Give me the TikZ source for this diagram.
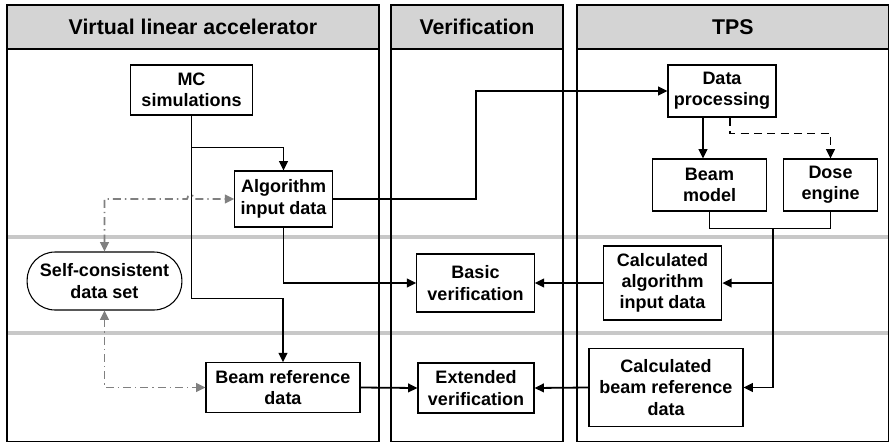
\documentclass[tikz,border=0pt]{standalone}
\usepackage{fontspec}
\setmainfont{Liberation Sans}
\usetikzlibrary{arrows.meta, calc}

\definecolor{headgray}{RGB}{212,212,212}
\definecolor{sepgray}{RGB}{200,200,200}
\definecolor{linkgray}{RGB}{128,128,128}

\begin{document}
\begin{tikzpicture}[x=0.75pt,y=-0.75pt,
  lane/.style={draw=black,line width=1.1pt},
  title/.style={font=\fontsize{16}{19}\selectfont\bfseries},
  box/.style={draw,line width=0.8pt,fill=white,align=center,inner sep=1pt,
    font=\fontsize{13.5}{16}\selectfont\bfseries},
  link/.style={draw,line width=1.35pt,-{Triangle[length=7pt,width=6.5pt]}},
  dashlink/.style={link,dash pattern=on 6pt off 4pt},
  graylink/.style={draw=linkgray,line width=1.3pt,
    dash pattern=on 6pt off 3pt on 1pt off 3pt,
    {Triangle[length=7pt,width=6.5pt]}-{Triangle[length=7pt,width=6.5pt]}}]
  \useasboundingbox (0,0) rectangle (889,443);
  % separators
  \draw[sepgray,line width=2.4pt] (7,237) -- (889,237) (7,333) -- (889,333);
  % lanes
  \foreach \xa/\xb/\name in {7/379/Virtual linear accelerator,391/563/Verification,577/888.5/TPS} {
    \draw[lane] (\xa,5) rectangle (\xb,441.5);
    \draw[lane,fill=headgray] (\xa,5) rectangle (\xb,49);
    \node[title] (hdr\xa) at ({(\xa+\xb)/2},27) {\name};
  }
  % nodes
  \node[box,minimum width=92pt,minimum height=37.5pt] (mc) at (191.5,90) {MC\\simulations};
  \node[box,minimum width=73pt,minimum height=42pt] (alg) at (283.5,199) {Algorithm\\input data};
  \node[box,minimum width=81pt,minimum height=39pt] (proc) at (722,91) {Data\\processing};
  \node[box,minimum width=86pt,minimum height=39pt] (beam) at (709.5,185) {Beam\\model};
  \node[box,minimum width=70pt,minimum height=39pt] (dose) at (830.5,185) {Dose\\engine};
  \node[box,rounded corners=21pt,minimum width=116pt,minimum height=43.5pt] (self) at (104.5,281) {Self-consistent\\data set};
  \node[box,minimum width=88pt,minimum height=43.5pt] (basic) at (475.5,283) {Basic\\verification};
  \node[box,minimum width=89pt,minimum height=55.5pt] (calcalg) at (662.5,283) {Calculated\\algorithm\\input data};
  \node[box,minimum width=115.5pt,minimum height=37pt] (bref) at (283,387.5) {Beam reference\\data};
  \node[box,minimum width=87pt,minimum height=37.5pt] (ext) at (476,388) {Extended\\verification};
  \node[box,minimum width=115.5pt,minimum height=58pt] (calcbref) at (666,387.5) {Calculated\\beam reference\\data};
  \coordinate (merge) at (773,228);
  % connectors
  \draw[link] (mc.south) -- ++(0,32) -| (alg.north);
  \draw[link] (mc.south) -- ++(0,183) -| (bref.north);
  \draw[link] (alg.east) -| (476,91) -- (proc.west);
  \draw[link] (alg.south) |- (basic.west);
  \draw[link] ($(proc.south)+(-19,0)$) -- ($(beam.north)+(-6.5,0)$);
  \draw[dashlink] ($(proc.south)+(8,0)$) -- ++(0,16) -| (dose.north);
  \draw[line width=1.35pt] (beam.south) -- ++(0,17) -| (dose.south);
  \draw[link] (merge) |- (calcalg.east);
  \draw[link] (merge) |- (calcbref.east);
  \draw[link] (calcalg.west) -- (basic.east);
  \draw[link] (calcbref.west) -- (ext.east);
  \draw[link] (bref.east) -- (ext.west);
  \draw[graylink] (self.north) -- (104.5,199) -- (187,199) arc (180:360:4) -- (alg.west);
  \draw[graylink] (self.south) |- (bref.west);
\end{tikzpicture}
\end{document}
